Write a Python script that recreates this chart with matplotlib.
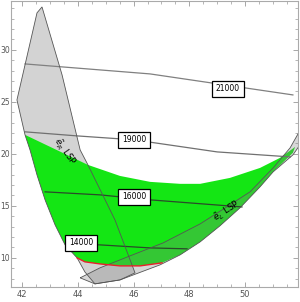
import matplotlib
matplotlib.use("Agg")
import matplotlib.pyplot as plt
from matplotlib.patches import Polygon
from matplotlib.ticker import MultipleLocator

# region boundaries (x, y)
lsp_x = [42.71, 43.43, 44.08, 44.36, 45.33, 46.05, 45.51, 44.61, 44.25, 43.97,
         43.54, 43.18, 42.82, 42.53, 42.28, 42.10, 41.81, 42.53]
lsp_y = [34.13, 27.60, 20.38, 18.94, 13.65, 8.56, 7.88, 7.50, 8.65, 10.00,
         11.25, 13.17, 15.58, 17.98, 20.38, 21.83, 25.19, 33.56]

sr_x = [44.08, 44.79, 45.87, 47.06, 48.39, 49.46, 50.18, 51.01, 51.62, 52.15,
        52.15, 51.72, 51.01, 50.54, 49.82, 49.10, 48.39, 47.67, 46.95, 45.51, 44.61]
sr_y = [8.08, 9.04, 10.19, 11.44, 13.27, 15.10, 16.35, 18.65, 20.58, 23.08,
        21.54, 19.90, 18.27, 16.83, 14.81, 13.08, 11.54, 10.29, 9.33, 7.88, 7.50]

green_x = [42.10, 44.36, 45.51, 46.59, 47.67, 48.39, 49.46, 50.54, 51.26, 51.80,
           51.72, 51.01, 50.54, 49.82, 49.10, 48.39, 47.67, 47.02,
           46.23, 45.51, 44.79, 44.25, 43.97,
           43.54, 43.18, 42.82, 42.53, 42.28]
green_y = [21.83, 18.94, 17.88, 17.31, 17.12, 17.12, 17.69, 18.65, 19.62, 20.67,
           20.10, 18.27, 16.83, 14.81, 13.08, 11.54, 10.29, 9.52,
           9.23, 9.23, 9.42, 9.62, 10.00,
           11.25, 13.17, 15.58, 17.98, 20.38]

red_x = [43.97, 44.25, 44.79, 45.51, 46.23, 47.02]
red_y = [10.00, 9.62, 9.42, 9.23, 9.23, 9.52]

# contour lines
c21000_x = [42.10, 46.59, 51.72]
c21000_y = [28.65, 27.69, 25.67]
c19000_x = [42.10, 43.97, 46.02, 49.00, 51.62]
c19000_y = [22.12, 21.73, 21.35, 20.19, 19.71]
c16000_x = [42.82, 44.79, 46.59, 49.89]
c16000_y = [16.35, 16.06, 15.58, 14.90]
c14000_x = [43.61, 44.79, 46.59, 47.92]
c14000_y = [11.35, 11.25, 10.96, 10.87]

labels = ["21000", "19000", "16000", "14000"]
label_x = [49.39, 46.02, 46.02, 44.11]
label_y = [26.25, 21.35, 15.87, 11.44]

fig = plt.figure(figsize=(3.0, 3.02), dpi=100)
ax = fig.add_axes([0.037, 0.05, 0.956, 0.947])

ax.add_patch(Polygon(list(zip(lsp_x, lsp_y)), closed=True, facecolor="#d3d3d3",
                     edgecolor="none", zorder=1))
ax.add_patch(Polygon(list(zip(green_x, green_y)), closed=True, facecolor="#14e614",
                     edgecolor="none", zorder=2))
ax.add_patch(Polygon(list(zip(sr_x, sr_y)), closed=True, facecolor="#808080",
                     alpha=0.3, edgecolor="none", zorder=3))

# outlines on top
ax.add_patch(Polygon(list(zip(lsp_x, lsp_y)), closed=True, facecolor="none",
                     edgecolor="#555555", linewidth=0.6, zorder=5))
ax.add_patch(Polygon(list(zip(sr_x, sr_y)), closed=True, facecolor="none",
                     edgecolor="#555555", linewidth=0.6, zorder=5))
ax.plot(red_x, red_y, color="#e8202a", linewidth=1.0, zorder=6)

ax.plot(c21000_x, c21000_y, color="#808080", linewidth=0.9, zorder=4)
ax.plot(c19000_x, c19000_y, color="#707070", linewidth=0.9, zorder=4)
ax.plot(c16000_x, c16000_y, color="#2a4a2a", linewidth=0.9, zorder=4)
ax.plot(c14000_x, c14000_y, color="#2a4a2a", linewidth=0.9, zorder=4)

for t, x, y in zip(labels, label_x, label_y):
    ax.text(x, y, t, fontsize=5.5, ha="center", va="center", zorder=8,
            bbox=dict(boxstyle="square,pad=0.5", facecolor="white",
                      edgecolor="black", linewidth=0.9))

ax.text(43.50, 20.19, r"$\tilde{e}_R$ LSP", fontsize=6.5, rotation=-55,
        ha="center", va="center", zorder=7)
ax.text(49.36, 14.52, r"$\tilde{e}_L$ LSP", fontsize=6.5, rotation=33,
        ha="center", va="center", zorder=7)

ax.set_xlim(41.6, 51.9)
ax.set_ylim(7.21, 34.71)
ax.xaxis.set_major_locator(MultipleLocator(2))
ax.xaxis.set_minor_locator(MultipleLocator(0.5))
ax.yaxis.set_major_locator(MultipleLocator(5))
ax.yaxis.set_minor_locator(MultipleLocator(1))
ax.tick_params(which="both", direction="in", top=True, right=True,
               color="#999999", labelcolor="#555555", labelsize=6, pad=2)
ax.tick_params(axis="y", labelsize=5.5, pad=0.8)
ax.tick_params(which="major", length=3.5, width=0.6)
ax.tick_params(which="minor", length=2, width=0.5)
for s in ax.spines.values():
    s.set_color("#aaaaaa")
    s.set_linewidth(0.8)

fig.savefig("out.png", dpi=100)
